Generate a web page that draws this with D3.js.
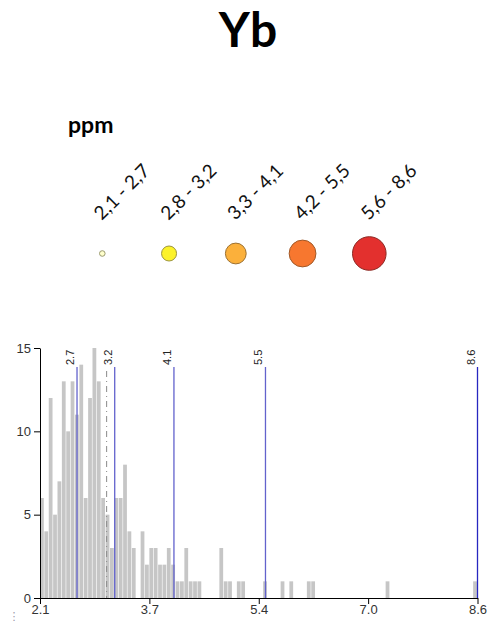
<!DOCTYPE html>
<html>
<head>
<meta charset="utf-8">
<script src="https://cdn.jsdelivr.net/npm/d3@7"></script>
<style>
  html, body { margin: 0; padding: 0; background: #fff; }
  svg { display: block; }
</style>
</head>
<body>
<div id="chart"></div>
<script>
// ---------- data ----------
const title = "Yb";
const unitLabel = "ppm";
const legendLabels = ["2,1 - 2,7", "2,8 - 3,2", "3,3 - 4,1", "4,2 - 5,5", "5,6 - 8,6"];

const xDomain = [2.1, 8.6];
const binCount = 100;
const binCounts = [
  6, 4, 12, 5, 7, 13, 10, 13, 11, 14,
  6, 12, 15, 13, 6, 5, 3, 6, 6, 8,
  4, 3, 0, 4, 2, 3, 3, 2, 2, 3,
  2, 1, 1, 3, 1, 1, 1, 0, 0, 0,
  0, 3, 1, 1, 0, 1, 1, 0, 0, 0,
  0, 1, 0, 0, 0, 1, 0, 1, 0, 0,
  0, 1, 1, 0, 0, 0, 0, 0, 0, 0,
  0, 0, 0, 0, 0, 0, 0, 0, 0, 1,
  0, 0, 0, 0, 0, 0, 0, 0, 0, 0,
  0, 0, 0, 0, 0, 0, 0, 0, 0, 1
];
const xTickLabels = ["2.1", "3.7", "5.4", "7.0", "8.6"];
const yTicks = [0, 5, 10, 15];
const breaks = [2.65, 3.21, 4.09, 5.45, 8.6];
const breakLabels = ["2.7", "3.2", "4.1", "5.5", "8.6"];
const meanValue = 3.09;

// ---------- layout / styles ----------
const W = 490, H = 628;
const svg = d3.select("#chart").append("svg").attr("width", W).attr("height", H);

svg.append("text")
  .attr("x", 248).attr("y", 47)
  .attr("text-anchor", "middle")
  .style("font-family", "Lato, 'Open Sans', sans-serif")
  .style("font-weight", 700)
  .style("font-size", "48px")
  .attr("fill", "#000")
  .text(title);

svg.append("text")
  .attr("x", 68).attr("y", 133)
  .style("font-family", "Lato, 'Open Sans', sans-serif")
  .style("font-weight", 700)
  .style("font-size", "23px")
  .attr("fill", "#000")
  .text(unitLabel);

// legend
const legendX = d3.scalePoint().domain(legendLabels).range([102.3, 369.3]);
const legendR = d3.scaleOrdinal().domain(legendLabels).range([2.8, 7.5, 10.4, 13.4, 16.8]);
const legendFill = d3.scaleOrdinal().domain(legendLabels)
  .range(["#ffffcc", "#fcf22a", "#fbb03b", "#f7772f", "#e3302e"]);
const legendStroke = d3.scaleOrdinal().domain(legendLabels)
  .range(["#9a9a70", "#9c9440", "#9c7030", "#a05a2a", "#8c2a24"]);

const lg = svg.append("g");
lg.selectAll("circle").data(legendLabels).join("circle")
  .attr("cx", d => legendX(d)).attr("cy", 253.5)
  .attr("r", d => legendR(d))
  .attr("fill", d => legendFill(d))
  .attr("stroke", d => legendStroke(d))
  .attr("stroke-width", 1);
lg.selectAll("text").data(legendLabels).join("text")
  .attr("transform", d => `translate(${legendX(d) - 0.5},221) rotate(-45)`)
  .style("font-family", "Lato, 'Open Sans', sans-serif")
  .style("font-size", "19px")
  .attr("fill", "#111")
  .text(d => d);

// histogram
const x = d3.scaleLinear().domain(xDomain).range([40, 477.5]);
const y = d3.scaleLinear().domain([0, 15]).range([598, 348]);
const binW = (xDomain[1] - xDomain[0]) / binCount;
const bins = binCounts.map((c, i) => ({ x0: xDomain[0] + i * binW, x1: xDomain[0] + (i + 1) * binW, c }));

svg.append("g").selectAll("rect").data(bins.filter(b => b.c > 0)).join("rect")
  .attr("x", d => x(d.x0))
  .attr("width", d => Math.max(0, x(d.x1) - x(d.x0) - 0.6))
  .attr("y", d => y(d.c))
  .attr("height", d => y(0) - y(d.c))
  .attr("fill", "#c6c6c6");

// mean line (dash-dot)
svg.append("line")
  .attr("x1", x(meanValue)).attr("x2", x(meanValue))
  .attr("y1", 371).attr("y2", y(0))
  .attr("stroke", "#8a8a8a").attr("stroke-width", 1)
  .attr("stroke-dasharray", "6,4,1,4");

// break lines
const bg = svg.append("g");
bg.selectAll("line").data(breaks).join("line")
  .attr("x1", d => x(d)).attr("x2", d => x(d))
  .attr("y1", 367).attr("y2", y(0))
  .attr("stroke", (d, i) => i === breaks.length - 1 ? "#2727c0" : "#6262cc")
  .attr("stroke-width", 1.3);
bg.selectAll("text").data(breaks).join("text")
  .attr("transform", d => `translate(${x(d) - 3},365) rotate(-90)`)
  .style("font-family", "'Liberation Sans', Arial, sans-serif")
  .style("font-size", "11px")
  .attr("fill", "#222")
  .text((d, i) => breakLabels[i]);

// axes
const xTickVals = xTickLabels.map((_, i) => xDomain[0] + i * (xDomain[1] - xDomain[0]) / (xTickLabels.length - 1));
const xAxis = d3.axisBottom(x).tickValues(xTickVals).tickSize(6).tickSizeOuter(0)
  .tickFormat((d, i) => xTickLabels[i]);
const yAxis = d3.axisLeft(y).tickValues(yTicks).tickSize(6).tickSizeOuter(0);

const gx = svg.append("g").attr("transform", `translate(0,${y(0)})`).call(xAxis);
const gy = svg.append("g").attr("transform", `translate(${x(xDomain[0])},0)`).call(yAxis);
[gx, gy].forEach(g => {
  g.select(".domain").attr("stroke", "#000");
  g.selectAll(".tick line").attr("stroke", "#000");
  g.selectAll(".tick text")
    .style("font-family", "'Liberation Sans', Arial, sans-serif")
    .style("font-size", "13px")
    .attr("fill", "#333");
});
gx.selectAll(".tick text").attr("dy", "0.9em").attr("y", 4);

// stray mark at the bottom-left
svg.append("text")
  .attr("x", 14).attr("y", 620)
  .attr("text-anchor", "middle")
  .style("font-family", "'DejaVu Sans', sans-serif")
  .style("font-size", "11px")
  .attr("fill", "#9a9aa8")
  .text("⋮");
</script>
</body>
</html>
